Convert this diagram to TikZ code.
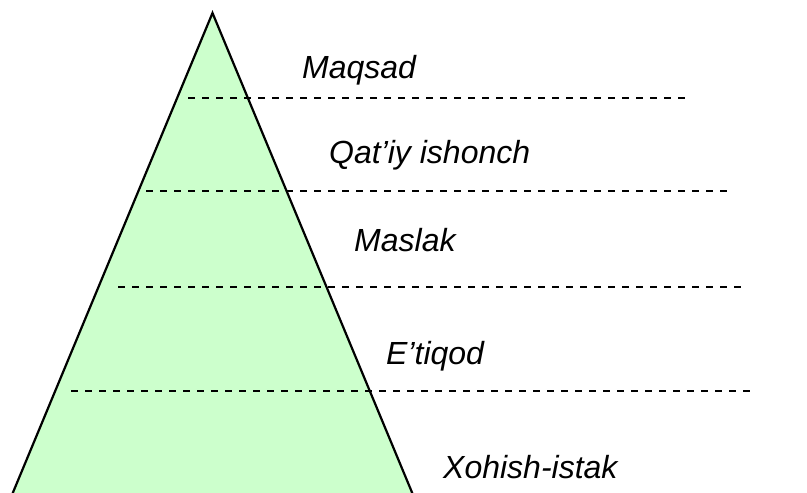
\documentclass[tikz,border=0pt]{standalone}
\usepackage{fontspec}
\setmainfont{Liberation Sans}
\begin{document}
\begin{tikzpicture}[x=1pt,y=-1pt,
  level/.style={draw=black,line width=2pt,dash pattern=on 6.7pt off 7.3pt},
  tier/.style={anchor=base west,inner sep=0pt,font=\fontsize{32}{38}\selectfont\itshape},
  pyr/.style={draw=black,line width=2.2pt,line join=miter}]
\definecolor{pyrgreen}{HTML}{CCFFCC}
\useasboundingbox (0,0) rectangle (807,493);
% pyramid
\coordinate (apex) at (212.5,13);
\coordinate (bl) at (11.5,496);
\coordinate (br) at (413.5,496);
\fill[pyrgreen] (bl) -- (apex) -- (br) -- cycle;
\draw[pyr] (bl) -- (apex) -- (br);
% dividing levels
\coordinate (l1a) at (188,97.5);  \coordinate (l1b) at (687,97.5);
\coordinate (l2a) at (146,190.5); \coordinate (l2b) at (728,190.5);
\coordinate (l3a) at (118,287);   \coordinate (l3b) at (742,287);
\coordinate (l4a) at (71,391);    \coordinate (l4b) at (752,391);
\draw[level] (l1a) -- (l1b);
\draw[level] (l2a) -- (l2b);
\draw[level] (l3a) -- (l3b);
\draw[level] (l4a) -- (l4b);
% tier labels
\node[tier] (t1) at (302,78) {Maqsad};
\node[tier] (t2) at (329,163) {Qat’iy ishonch};
\node[tier] (t3) at (354,251) {Maslak};
\node[tier] (t4) at (386,364) {E’tiqod};
\node[tier] (t5) at (443,478) {Xohish-istak};
\end{tikzpicture}
\end{document}
